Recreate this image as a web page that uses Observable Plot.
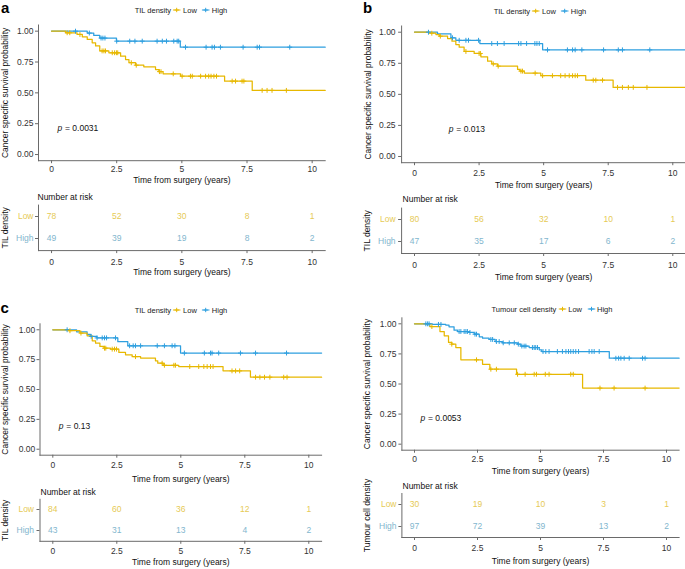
<!DOCTYPE html>
<html><head><meta charset="utf-8">
<script src="https://cdn.jsdelivr.net/npm/d3@7"></script>
<script src="https://cdn.jsdelivr.net/npm/@observablehq/plot@0.6"></script>
<style>
html,body{margin:0;padding:0;background:#fff;}
#root{position:relative;width:685px;height:569px;overflow:hidden;font-family:"Liberation Sans",Arial,Helvetica,sans-serif;}
.lg{position:absolute;transform:translate(-50%,-50%);white-space:nowrap;font-size:7.5px;color:#222;display:flex;align-items:center;}
.lg svg{margin:0 2px;}
.lg .sp{margin-right:3px;}
.tag{position:absolute;font-weight:bold;font-size:15px;line-height:15px;color:#000;}
</style></head><body><div id="root"></div>
<script>
// ---------- data ----------
const timeTicks = [0, 2.5, 5, 7.5, 10];
const survTicks = [0, 0.25, 0.5, 0.75, 1];
const strata = ["Low", "High"];
const xTitle = "Time from surgery (years)";
const yTitle = "Cancer specific survival probability";
const riskTitle = "Number at risk";
const groupNames = ["TIL density", "TIL density", "TIL density", "Tumour cell density"];
const pValues = ["0.0031", "0.013", "0.13", "0.0053"];
const panelTags = ["a", "b", "c"];

// panel a
const aLowTime = [0, 0.54, 0.98, 1.18, 1.37, 1.56, 1.69, 1.85, 2.2, 2.65, 2.84, 2.97, 3.22, 3.54, 3.99, 4.12, 4.28, 4.95, 6.64, 7.7, 10.5];
const aLowSurv = [1, 0.987, 0.973, 0.954, 0.933, 0.906, 0.88, 0.84, 0.825, 0.797, 0.77, 0.744, 0.724, 0.711, 0.689, 0.672, 0.654, 0.635, 0.595, 0.52, 0.52];
const aLowCens = [0.6, 0.7, 1.09, 1.94, 2.01, 2.07, 2.33, 2.42, 2.49, 2.54, 3.06, 3.25, 4.14, 4.2, 4.67, 5.01, 5.33, 5.4, 5.72, 5.91, 6.03, 6.12, 6.23, 6.33, 6.93, 7.06, 7.31, 7.38, 8.08, 8.27, 8.46, 9.01];
const aHighTime = [0, 1.37, 1.62, 1.85, 2.49, 4.94, 10.5];
const aHighSurv = [1, 0.985, 0.965, 0.944, 0.919, 0.87, 0.87];
const aHighCens = [0.92, 1.45, 1.9, 1.97, 2.05, 2.5, 3.0, 3.2, 3.48, 4.05, 4.25, 4.41, 4.69, 4.82, 4.88, 5.14, 5.93, 6.16, 6.25, 6.48, 7.35, 7.89, 7.98, 9.14];
const aRiskLow = [78, 52, 30, 8, 1];
const aRiskHigh = [49, 39, 19, 8, 2];

// panel b
const bLowTime = [0, 0.57, 0.83, 0.96, 1.28, 1.45, 1.6, 1.73, 1.92, 2.31, 2.57, 2.83, 2.99, 3.21, 3.99, 4.08, 4.25, 4.89, 6.63, 7.69, 10.5];
const bLowSurv = [1, 0.992, 0.981, 0.968, 0.949, 0.928, 0.901, 0.88, 0.845, 0.829, 0.802, 0.767, 0.745, 0.727, 0.7, 0.687, 0.671, 0.65, 0.614, 0.556, 0.556];
const bLowCens = [0.67, 1.0, 1.99, 2.5, 2.55, 3.05, 3.24, 4.12, 4.18, 4.67, 4.96, 5.34, 5.66, 5.83, 5.99, 6.12, 6.22, 6.31, 6.92, 7.02, 7.28, 7.86, 8.05, 8.28, 8.47, 9.0];
const bHighTime = [0, 0.89, 1.41, 1.6, 2.53, 4.96, 10.5];
const bHighSurv = [1, 0.987, 0.955, 0.935, 0.909, 0.858, 0.858];
const bHighCens = [0.54, 1.47, 1.73, 1.99, 2.09, 2.48, 2.99, 3.21, 3.47, 4.03, 4.12, 4.34, 4.66, 4.74, 4.83, 5.15, 5.92, 6.12, 6.22, 6.48, 7.32, 7.89, 8.05, 9.11];
const bRiskLow = [80, 56, 32, 10, 1];
const bRiskHigh = [47, 35, 17, 6, 2];

// panel c
const cLowTime = [0, 0.63, 1.06, 1.34, 1.54, 1.67, 1.84, 2.0, 2.25, 2.58, 2.84, 3.1, 3.43, 4.01, 4.1, 4.31, 4.92, 6.65, 7.72, 10.5];
const cLowSurv = [1, 0.992, 0.972, 0.949, 0.908, 0.888, 0.86, 0.846, 0.838, 0.81, 0.79, 0.775, 0.763, 0.74, 0.72, 0.703, 0.692, 0.656, 0.603, 0.603];
const cLowCens = [0.67, 1.1, 2.02, 2.07, 2.32, 2.41, 2.49, 3.23, 4.27, 4.36, 4.73, 4.79, 5.35, 5.7, 5.9, 6.03, 6.16, 6.26, 7.0, 7.14, 7.3, 7.92, 8.09, 8.27, 8.48, 9.02, 9.15];
const cHighTime = [0, 0.93, 1.34, 1.47, 1.72, 2.54, 2.93, 4.99, 10.5];
const cHighSurv = [1, 0.983, 0.962, 0.945, 0.932, 0.9, 0.866, 0.805, 0.805];
const cHighCens = [0.56, 1.5, 1.73, 1.93, 2.02, 2.1, 2.45, 3.0, 3.14, 3.23, 3.43, 4.08, 4.36, 4.66, 4.77, 5.14, 5.92, 6.16, 6.22, 6.48, 7.33, 7.92, 9.13];
const cRiskLow = [84, 60, 36, 12, 1];
const cRiskHigh = [43, 31, 13, 4, 2];

// panel d
const dLowTime = [0, 0.61, 1.01, 1.18, 1.35, 1.48, 1.64, 1.84, 2.7, 2.99, 4.05, 6.67, 10.5];
const dLowSurv = [1, 0.977, 0.936, 0.9, 0.845, 0.831, 0.803, 0.701, 0.664, 0.623, 0.581, 0.466, 0.466];
const dLowCens = [0.69, 1.48, 2.46, 3.03, 3.25, 4.09, 4.39, 4.75, 4.84, 5.19, 5.34, 6.2, 6.3, 7.36, 7.92, 9.15];
const dHighTime = [0, 0.71, 1.24, 1.37, 1.57, 1.71, 2.17, 2.37, 2.57, 2.7, 2.96, 3.2, 3.49, 4.09, 4.22, 4.55, 4.95, 5.05, 7.73, 10.5];
const dHighSurv = [1, 0.995, 0.99, 0.975, 0.947, 0.936, 0.928, 0.914, 0.892, 0.881, 0.87, 0.853, 0.842, 0.831, 0.815, 0.803, 0.784, 0.77, 0.714, 0.714];
const dHighCens = [0.45, 0.52, 0.58, 0.95, 1.05, 1.77, 1.84, 1.97, 2.04, 2.1, 2.2, 2.4, 2.46, 3.03, 3.1, 3.25, 3.36, 3.52, 3.76, 3.96, 4.12, 4.26, 4.35, 4.42, 4.68, 4.75, 4.81, 4.88, 5.1, 5.21, 5.34, 5.67, 5.87, 6.01, 6.11, 6.2, 6.3, 6.4, 6.51, 6.93, 7.04, 7.13, 7.33, 7.99, 8.1, 8.19, 8.32, 8.52, 9.05, 9.15];
const dRiskLow = [30, 19, 10, 3, 1];
const dRiskHigh = [97, 72, 39, 13, 2];

// ---------- styling ----------
const lineCol = {Low: "#E7B800", High: "#2E9FDF"};
const tableCol = {Low: "#E6CA55", High: "#82B6CE"};
const axisCol = "#6a6a6a";
const tickTextCol = "#333";
const titleCol = "#111";
const xDomain = [-0.5, 10.5];
const yDomain = [-0.05, 1.05];
const FONT = '"Liberation Sans", Arial, Helvetica, sans-serif';
const root = document.getElementById("root");

function stepRows(times, survs) { return times.map((t, i) => ({t, s: survs[i]})); }
function censorRows(cens, times, survs) {
  return cens.map(t => {
    let s = survs[0];
    for (let i = 0; i < times.length; i++) if (times[i] <= t) s = survs[i];
    return {t, s};
  });
}
function place(svg, left, top) {
  svg.style.position = "absolute";
  svg.style.left = left + "px";
  svg.style.top = top + "px";
  svg.style.background = "transparent";
  svg.style.overflow = "visible";
  svg.style.maxWidth = "none";
  root.appendChild(svg);
}

function kmPanel(c, d) {
  const svg = Plot.plot({
    width: c.w, height: c.h,
    marginLeft: c.mL, marginRight: c.mR, marginTop: c.mT, marginBottom: c.mB,
    style: {fontFamily: FONT, fontSize: "8.5px", background: "transparent"},
    x: {domain: xDomain},
    y: {domain: yDomain},
    marks: [
      Plot.frame({anchor: "left", stroke: axisCol, strokeWidth: 1}),
      Plot.frame({anchor: "bottom", stroke: axisCol, strokeWidth: 1}),
      Plot.axisX(timeTicks, {tickSize: 3, tickPadding: c.xPad, stroke: axisCol, fill: tickTextCol, tickFormat: v => String(v), label: null}),
      Plot.axisY(survTicks, {tickSize: 3, tickPadding: c.yPad, stroke: axisCol, fill: tickTextCol, tickFormat: d3.format(".2f"), label: null}),
      Plot.line(stepRows(d.highT, d.highS), {x: "t", y: "s", curve: "step-after", stroke: lineCol.High, strokeWidth: 1.25}),
      Plot.line(stepRows(d.lowT, d.lowS), {x: "t", y: "s", curve: "step-after", stroke: lineCol.Low, strokeWidth: 1.25}),
      Plot.dot(censorRows(d.highC, d.highT, d.highS), {x: "t", y: "s", symbol: "plus", r: 1.7, stroke: lineCol.High, strokeWidth: 1}),
      Plot.dot(censorRows(d.lowC, d.lowT, d.lowS), {x: "t", y: "s", symbol: "plus", r: 1.7, stroke: lineCol.Low, strokeWidth: 1}),
      Plot.text([xTitle], {text: v => v, frameAnchor: "bottom", dy: c.xTitleDy, textAnchor: "middle", lineAnchor: "middle", fill: titleCol}),
      Plot.text([yTitle], {text: v => v, frameAnchor: "left", dx: c.yTitleDx, rotate: -90, textAnchor: "middle", lineAnchor: "middle", fill: titleCol}),
      Plot.text(["p"], {text: v => v, frameAnchor: "bottom-left", dx: c.pDx, dy: c.pDy, textAnchor: "start", lineAnchor: "middle", fontStyle: "italic", fill: titleCol}),
      Plot.text(["= " + d.p], {text: v => v, frameAnchor: "bottom-left", dx: c.pDx + 7.5, dy: c.pDy, textAnchor: "start", lineAnchor: "middle", fill: titleCol})
    ]
  });
  place(svg, c.left, c.top);
}

function riskPanel(c, d) {
  const rows = [
    ...timeTicks.map((t, i) => ({t, g: "Low", n: d.lowN[i]})),
    ...timeTicks.map((t, i) => ({t, g: "High", n: d.highN[i]}))
  ];
  const svg = Plot.plot({
    width: c.w, height: c.h,
    marginLeft: c.mL, marginRight: c.mR, marginTop: c.mT, marginBottom: c.mB,
    style: {fontFamily: FONT, fontSize: "8.5px", background: "transparent"},
    x: {domain: xDomain},
    y: {type: "point", domain: strata, padding: 0.5},
    color: {type: "identity"},
    marks: [
      Plot.frame({anchor: "left", stroke: axisCol, strokeWidth: 1}),
      Plot.frame({anchor: "bottom", stroke: axisCol, strokeWidth: 1}),
      Plot.axisX(timeTicks, {tickSize: 3, tickPadding: c.xPad, stroke: axisCol, fill: tickTextCol, tickFormat: v => String(v), label: null}),
      Plot.axisY(strata, {tickSize: 3, stroke: axisCol, tickFormat: () => "", label: null}),
      Plot.text(strata, {y: v => v, text: v => v, frameAnchor: "left", dx: c.labDx, textAnchor: "end", lineAnchor: "middle", fill: v => tableCol[v]}),
      Plot.text(rows, {x: "t", y: "g", text: "n", textAnchor: "middle", fill: r => tableCol[r.g]}),
      Plot.text([riskTitle], {text: v => v, frameAnchor: "top-left", dx: c.nDx, dy: c.nDy, textAnchor: "start", lineAnchor: "middle", fill: titleCol}),
      Plot.text([xTitle], {text: v => v, frameAnchor: "bottom", dy: c.xTitleDy, textAnchor: "middle", lineAnchor: "middle", fill: titleCol}),
      Plot.text([d.group], {text: v => v, frameAnchor: "left", dx: c.yTitleDx, rotate: -90, textAnchor: "middle", lineAnchor: "middle", fill: titleCol})
    ]
  });
  place(svg, c.left, c.top);
}

function keyGlyph(color) {
  return `<svg width="8" height="7" viewBox="0 0 8 7"><line x1="0" y1="3.5" x2="8" y2="3.5" stroke="${color}" stroke-width="1.1"/><line x1="4" y1="1.3" x2="4" y2="5.7" stroke="${color}" stroke-width="1"/><line x1="1.8" y1="3.5" x2="6.2" y2="3.5" stroke="${color}" stroke-width="1"/></svg>`;
}
function legend(group, cx, cy) {
  const div = document.createElement("div");
  div.className = "lg";
  div.style.left = cx + "px";
  div.style.top = cy + "px";
  div.innerHTML = `<span>${group}</span>${keyGlyph(lineCol.Low)}<span class="sp">${strata[0]}</span>${keyGlyph(lineCol.High)}<span>${strata[1]}</span>`;
  root.appendChild(div);
}
function tag(label, left, top) {
  const div = document.createElement("div");
  div.className = "tag";
  div.style.left = left + "px";
  div.style.top = top + "px";
  div.textContent = label;
  root.appendChild(div);
}

const panels = [
  {
    km: {left: 0, top: 18, w: 340, h: 172, mL: 38, mR: 15.3, mT: 6.5, mB: 29.8, xPad: 2.6, yPad: 2, xTitleDy: 19.8, yTitleDx: -33, pDx: 19, pDy: -32.2},
    rk: {left: 0, top: 185, w: 340, h: 100, mL: 38, mR: 15.3, mT: 19.6, mB: 34.9, xPad: 5, xTitleDy: 21.6, yTitleDx: -33, labDx: -5, nDx: -1, nDy: -7.6},
    lg: [181, 10],
    data: {lowT: aLowTime, lowS: aLowSurv, lowC: aLowCens, highT: aHighTime, highS: aHighSurv, highC: aHighCens, lowN: aRiskLow, highN: aRiskHigh}
  },
  {
    km: {left: 340, top: 18, w: 346, h: 172, mL: 61.1, mR: 0.8, mT: 7.5, mB: 27.8, xPad: 4, yPad: 3, xTitleDy: 22.8, yTitleDx: -33, pDx: 47.2, pDy: -33.2},
    rk: {left: 340, top: 185, w: 346, h: 100, mL: 61.1, mR: 0.8, mT: 22.6, mB: 32, xPad: 5, xTitleDy: 23.7, yTitleDx: -34, labDx: -6, nDx: 1, nDy: -8.6},
    lg: [540, 11],
    data: {lowT: bLowTime, lowS: bLowSurv, lowC: bLowCens, highT: bHighTime, highS: bHighSurv, highC: bHighCens, lowN: bRiskLow, highN: bRiskHigh}
  },
  {
    km: {left: 0, top: 300, w: 340, h: 185, mL: 39.5, mR: 18.9, mT: 23.3, mB: 30.3, xPad: 3.3, yPad: 1.8, xTitleDy: 23.6, yTitleDx: -34.5, pDx: 18.8, pDy: -28.7},
    rk: {left: 0, top: 475, w: 340, h: 94, mL: 39.5, mR: 18.9, mT: 23.8, mB: 28.2, xPad: 4, xTitleDy: 20.9, yTitleDx: -34.5, labDx: -6, nDx: 0.5, nDy: -7.1},
    lg: [181, 310],
    data: {lowT: cLowTime, lowS: cLowSurv, lowC: cLowCens, highT: cHighTime, highS: cHighSurv, highC: cHighCens, lowN: cRiskLow, highN: cRiskHigh}
  },
  {
    km: {left: 340, top: 300, w: 345, h: 185, mL: 61.4, mR: 6.4, mT: 17.3, mB: 35.3, xPad: 2.6, yPad: 2.5, xTitleDy: 21.3, yTitleDx: -34.7, pDx: 18.6, pDy: -31.7},
    rk: {left: 340, top: 475, w: 345, h: 94, mL: 61.4, mR: 6.4, mT: 18, mB: 32, xPad: 4.3, xTitleDy: 23.7, yTitleDx: -34.7, labDx: -5.4, nDx: 0.6, nDy: -7},
    lg: [552, 309],
    data: {lowT: dLowTime, lowS: dLowSurv, lowC: dLowCens, highT: dHighTime, highS: dHighSurv, highC: dHighCens, lowN: dRiskLow, highN: dRiskHigh}
  }
];

panels.forEach((p, i) => {
  const d = Object.assign({}, p.data, {p: pValues[i], group: groupNames[i]});
  kmPanel(p.km, d);
  riskPanel(p.rk, d);
  legend(groupNames[i], p.lg[0], p.lg[1]);
});
tag(panelTags[0], 1, 0);
tag(panelTags[1], 363, 0);
tag(panelTags[2], 0.5, 300);
</script></body></html>
